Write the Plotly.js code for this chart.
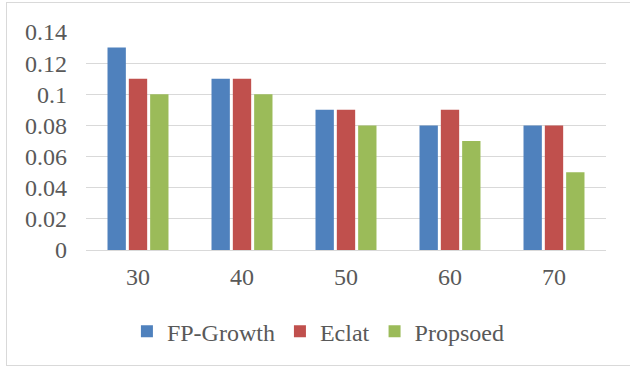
<!DOCTYPE html>
<html>
<head>
<meta charset="utf-8">
<script src="https://cdn.plot.ly/plotly-3.0.1.min.js"></script>
<style>
  html, body { margin: 0; padding: 0; background: #fff; overflow: hidden; }
  #wrap { position: relative; width: 630px; height: 369px; }
  #chart { width: 630px; height: 369px; }
  #frame { position: absolute; left: 6px; top: 2px; width: 640px; height: 364px;
           border: 1px solid #D9D9D9; pointer-events: none; box-sizing: border-box; }
</style>
</head>
<body>
<div id="wrap">
  <div id="chart"></div>
  <div id="frame"></div>
</div>
<script>
const categories = ["30", "40", "50", "60", "70"];
const fpGrowth = [0.13, 0.11, 0.09, 0.08, 0.08];
const eclat = [0.11, 0.11, 0.09, 0.09, 0.08];
const proposed = [0.10, 0.10, 0.08, 0.07, 0.05];
const seriesNames = ["FP-Growth", "Eclat", "Propsoed"];
const yTickVals = [0, 0.02, 0.04, 0.06, 0.08, 0.1, 0.12, 0.14];
const yTickText = ["0", "0.02", "0.04", "0.06", "0.08", "0.1", "0.12", "0.14"];

const colors = ["#4F81BD", "#C0504D", "#9BBB59"];
const seriesData = [fpGrowth, eclat, proposed];

const traces = seriesData.map((vals, i) => ({
  type: "bar",
  x: categories,
  y: vals,
  name: seriesNames[i],
  marker: { color: colors[i], line: { width: 0 } },
  hoverinfo: "none"
}));

const font = { family: "Liberation Serif", size: 24, color: "#595959" };

const layout = {
  width: 630,
  height: 369,
  margin: { l: 86, r: 24, t: 31.5, b: 119, pad: 0 },
  paper_bgcolor: "#FFFFFF",
  plot_bgcolor: "#FFFFFF",
  font: font,
  barmode: "group",
  bargap: 0.385,
  bargroupgap: 0.14,
  showlegend: true,
  legend: {
    orientation: "h",
    x: 0.446,
    xanchor: "center",
    y: -0.375,
    yanchor: "middle",
    font: font,
    itemwidth: 30,
    traceorder: "normal"
  },
  xaxis: {
    type: "category",
    tickfont: font,
    showgrid: false,
    showline: false,
    zeroline: false,
    ticks: "",
    ticklabelstandoff: 10
  },
  yaxis: {
    range: [0, 0.14],
    tickvals: yTickVals,
    ticktext: yTickText,
    tickfont: font,
    showgrid: true,
    gridcolor: "#D9D9D9",
    gridwidth: 1,
    zeroline: true,
    zerolinecolor: "#D9D9D9",
    zerolinewidth: 1,
    showline: false,
    ticks: "",
    ticklabelstandoff: 18
  }
};

Plotly.newPlot("chart", traces, layout, { displayModeBar: false, staticPlot: true });
</script>
</body>
</html>
